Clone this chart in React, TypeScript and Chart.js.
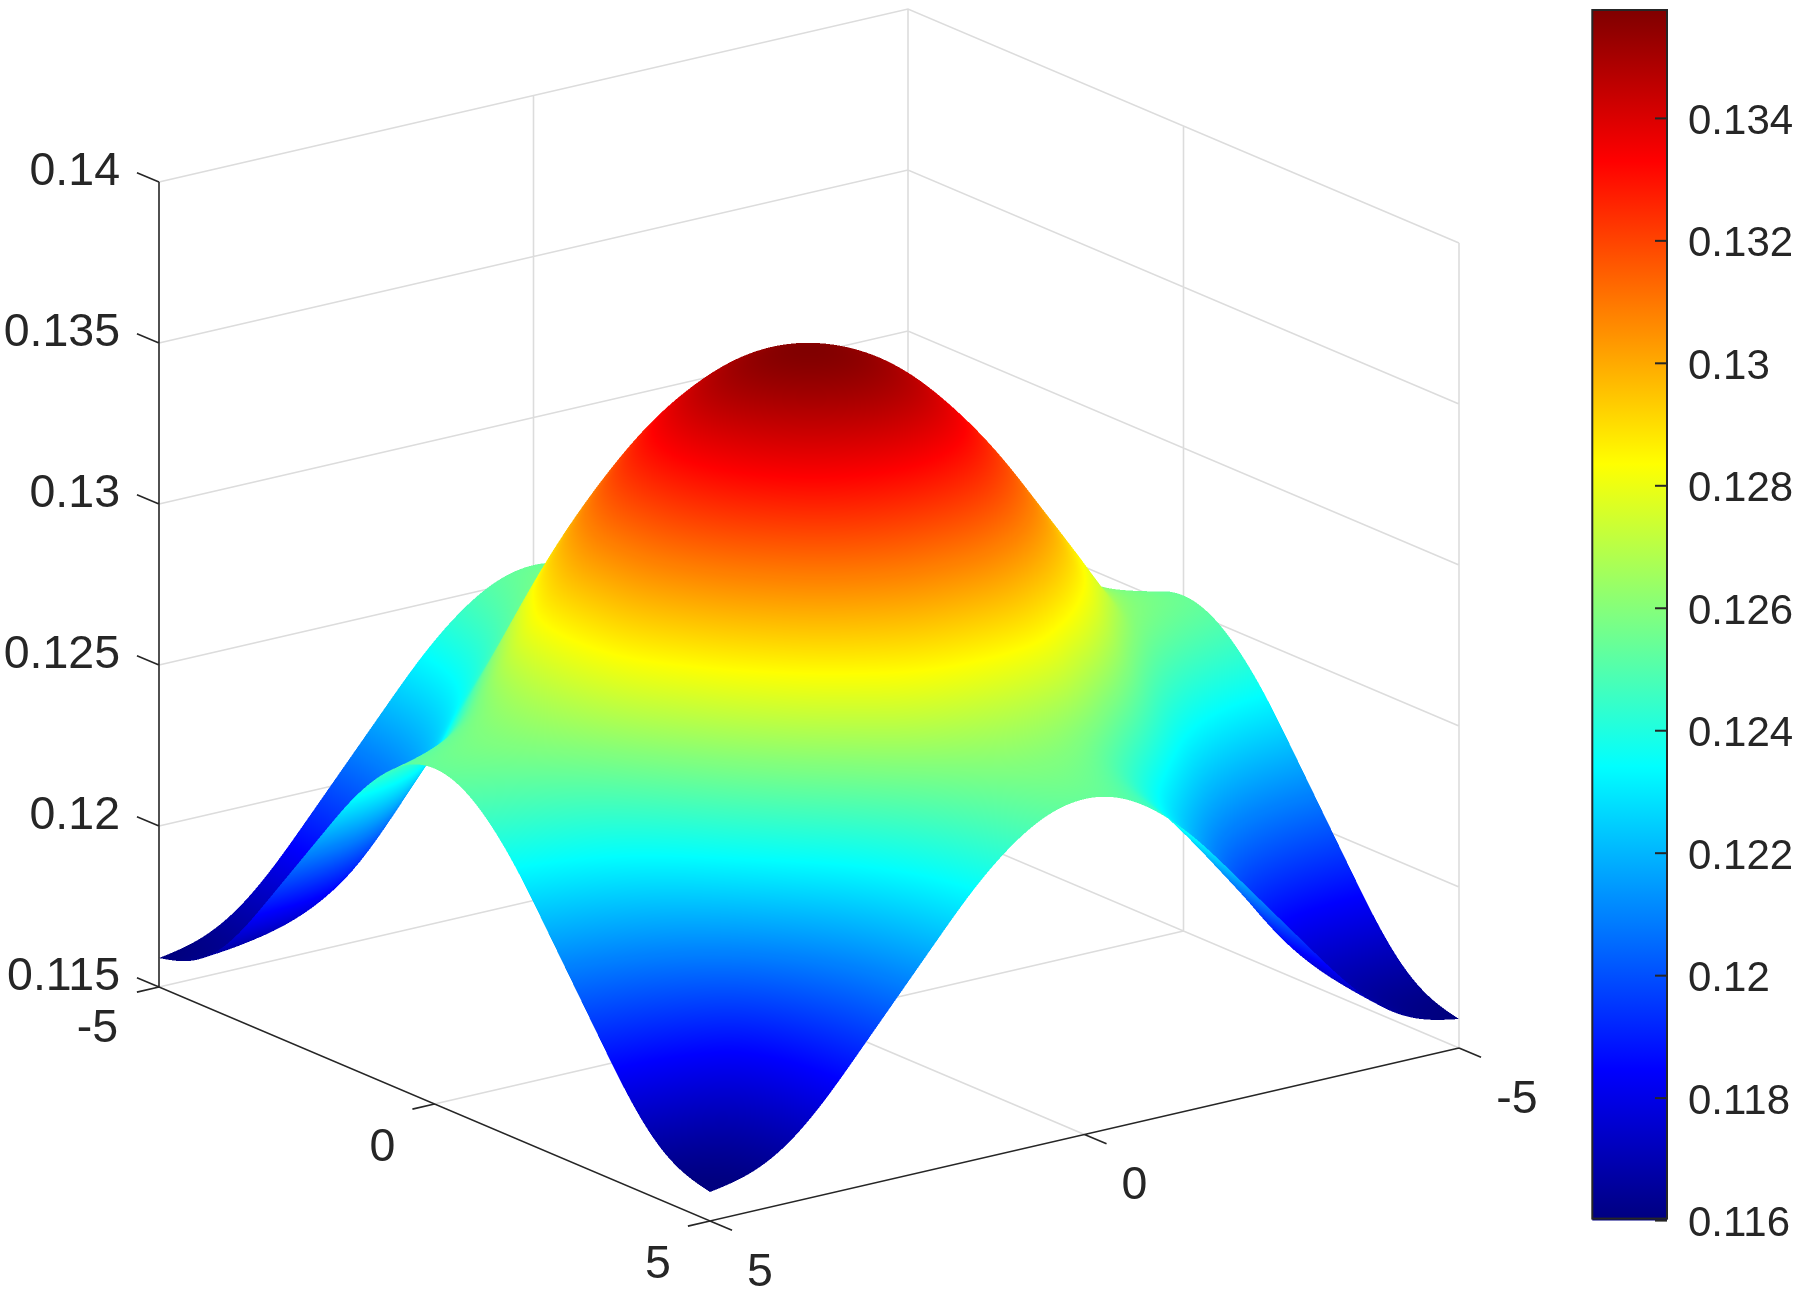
import React, { useEffect, useRef } from "react";
import { Chart, registerables } from "chart.js";

Chart.register(...registerables);

// Surface heights. Rows are |v| = 0, 0.5 ... 5; columns are |u| = 0, 0.5 ... 5.
const zRow00 = [0.1359, 0.13565, 0.13505, 0.13405, 0.1325, 0.1307, 0.1288, 0.127, 0.1261, 0.1258, 0.1255];
const zRow05 = [0.13565, 0.1354, 0.1348, 0.1337, 0.13235, 0.1306, 0.1287, 0.1268, 0.126, 0.1255, 0.12525];
const zRow10 = [0.13505, 0.1348, 0.1341, 0.1331, 0.13165, 0.1298, 0.1282, 0.1262, 0.1253, 0.1248, 0.1245];
const zRow15 = [0.13405, 0.1337, 0.1331, 0.1319, 0.1305, 0.1288, 0.1267, 0.12505, 0.1241, 0.1236, 0.1234];
const zRow20 = [0.1325, 0.13235, 0.13165, 0.1305, 0.129, 0.1272, 0.1251, 0.12365, 0.1227, 0.1222, 0.122];
const zRow25 = [0.1307, 0.1306, 0.1298, 0.1288, 0.1272, 0.1252, 0.1236, 0.12205, 0.12115, 0.12075, 0.1206];
const zRow30 = [0.1288, 0.1287, 0.1282, 0.1267, 0.1251, 0.1236, 0.1219, 0.1204, 0.11965, 0.1193, 0.1192];
const zRow35 = [0.127, 0.1268, 0.1262, 0.12505, 0.12365, 0.12205, 0.1204, 0.1186, 0.118, 0.11785, 0.1178];
const zRow40 = [0.1261, 0.126, 0.1253, 0.1241, 0.1227, 0.12115, 0.11965, 0.118, 0.117, 0.1168, 0.1167];
const zRow45 = [0.1258, 0.1255, 0.1248, 0.1236, 0.1222, 0.12075, 0.1193, 0.11785, 0.1168, 0.1162, 0.1161];
const zRow50 = [0.1255, 0.12525, 0.1245, 0.1234, 0.122, 0.1206, 0.1192, 0.1178, 0.1167, 0.1161, 0.1159];
const zQuarter = [zRow00, zRow05, zRow10, zRow15, zRow20, zRow25, zRow30, zRow35, zRow40, zRow45, zRow50];

const planeTicks = [-5, 0, 5];
const zTicks = [0.115, 0.12, 0.125, 0.13, 0.135, 0.14];
const zTickLabels = ["0.115", "0.12", "0.125", "0.13", "0.135", "0.14"];
const barTicks = [0.116, 0.118, 0.12, 0.122, 0.124, 0.126, 0.128, 0.13, 0.132, 0.134];
const barMin = 0.116;
const barMax = 0.13577;

// Orthographic view of the box
const VIEW = { cx: 809, cy: 1017.5, ux: 55.1, uy: 23.4, vx: -74.9, vy: 17.3, zk: 32200, z0: 0.115 };
const project = (u: number, v: number, z: number) => ({
  x: VIEW.cx + u * VIEW.ux + v * VIEW.vx,
  y: VIEW.cy + u * VIEW.uy + v * VIEW.vy - (z - VIEW.z0) * VIEW.zk,
});

const DARK = "#262626";
const GRID = "#dcdcdc";
const FONT = "46.5px 'Liberation Sans', Arial, sans-serif";

const clamp01 = (a: number) => Math.max(0, Math.min(1, a));
const jetRGB = (t: number) => [
  Math.round(clamp01(1.5 - Math.abs(4 * t - 3)) * 255),
  Math.round(clamp01(1.5 - Math.abs(4 * t - 2)) * 255),
  Math.round(clamp01(1.5 - Math.abs(4 * t - 1)) * 255),
];
const jet = (t: number) => `rgb(${jetRGB(t).join(",")})`;

// full grid, u and v from -5 to 5 in steps of 0.5, mirrored from the quarter table
const N = 21;
const zIn = (i: number, j: number) => zQuarter[Math.abs(j - 10)][Math.abs(i - 10)];
const zAt = (i: number, j: number): number => {
  if (i < 0) return 2 * zAt(0, j) - zAt(1, j);
  if (i > N - 1) return 2 * zAt(N - 1, j) - zAt(N - 2, j);
  if (j < 0) return 2 * zAt(i, 0) - zAt(i, 1);
  if (j > N - 1) return 2 * zAt(i, N - 1) - zAt(i, N - 2);
  return zIn(i, j);
};
// cubic spline used only to paint between the table's nodes
const bs = (p0: number, p1: number, p2: number, p3: number, t: number) => {
  const s = 1 - t;
  return (s * s * s * p0 + (3 * t * t * t - 6 * t * t + 4) * p1 + (-3 * t * t * t + 3 * t * t + 3 * t + 1) * p2 + t * t * t * p3) / 6;
};
const smoothZ = (fi: number, fj: number) => {
  const i = Math.min(N - 2, Math.floor(fi));
  const j = Math.min(N - 2, Math.floor(fj));
  const ti = fi - i;
  const tj = fj - j;
  const col = [-1, 0, 1, 2].map((d) => bs(zAt(i + d, j - 1), zAt(i + d, j), zAt(i + d, j + 1), zAt(i + d, j + 2), tj));
  return bs(col[0], col[1], col[2], col[3], ti);
};

const surfacePoints: { x: number; y: number }[] = [];
for (let i = 0; i < N; i++)
  for (let j = 0; j < N; j++) surfacePoints.push(project(-5 + i / 2, -5 + j / 2, zAt(i, j)));

const gap = { x: NaN, y: NaN };
const zLo = zTicks[0];
const zHi = zTicks[zTicks.length - 1];
const gridSegments: { x: number; y: number }[] = [];
zTicks.forEach((z) => {
  gridSegments.push(project(-5, 5, z), project(-5, -5, z), project(5, -5, z), gap);
});
[
  [-5, planeTicks[1]],
  [-5, -5],
  [planeTicks[1], -5],
  [5, -5],
].forEach(([u, v]) => gridSegments.push(project(u, v, zLo), project(u, v, zHi), gap));
gridSegments.push(project(-5, 0, zLo), project(5, 0, zLo), gap);
gridSegments.push(project(0, -5, zLo), project(0, 5, zLo), gap);

const axisSegments: { x: number; y: number }[] = [];
axisSegments.push(project(-5, 5, zHi), project(-5, 5, zLo), project(5, 5, zLo), project(5, -5, zLo), gap);
const tickLen = 0.4;
zTicks.forEach((z) => {
  axisSegments.push(project(-5, 5, z), project(-5 - tickLen, 5, z), gap);
});
planeTicks.forEach((t) => {
  axisSegments.push(project(t, 5, zLo), project(t, 5 + 0.295, zLo), gap);
  axisSegments.push(project(5, t, zLo), project(5 + tickLen, t, zLo), gap);
});

const surfacePlugin = {
  id: "surfacePlugin",
  afterDatasetDraw(chart: any, args: any) {
    if (chart.data.datasets[args.index].label !== "surface") return;
    const { ctx, scales } = chart;
    const SUB = 8;
    const SS = 2; // supersampled raster, painted back to front
    const W = chart.width * SS;
    const H = chart.height * SS;
    const M = (N - 1) * SUB + 1;
    const px = new Float64Array(M * M);
    const py = new Float64Array(M * M);
    const pt = new Float64Array(M * M);
    for (let a = 0; a < M; a++)
      for (let b = 0; b < M; b++) {
        const fi = a / SUB;
        const fj = b / SUB;
        const z = smoothZ(fi, fj);
        const p = project(-5 + fi / 2, -5 + fj / 2, z);
        const k = a * M + b;
        px[k] = scales.x.getPixelForValue(p.x) * SS;
        py[k] = scales.y.getPixelForValue(p.y) * SS;
        pt[k] = clamp01((z - barMin) / (barMax - barMin));
      }
    const lut = new Uint8Array(1025 * 3);
    for (let i = 0; i <= 1024; i++) {
      const c = jetRGB(i / 1024);
      lut[i * 3] = c[0];
      lut[i * 3 + 1] = c[1];
      lut[i * 3 + 2] = c[2];
    }
    const img = new ImageData(W, H);
    const data = img.data;
    const tri = (k0: number, k1: number, k2: number) => {
      const x0 = px[k0], y0 = py[k0], x1 = px[k1], y1 = py[k1], x2 = px[k2], y2 = py[k2];
      const det = (y1 - y2) * (x0 - x2) + (x2 - x1) * (y0 - y2);
      if (Math.abs(det) < 1e-9) return;
      const minX = Math.max(0, Math.floor(Math.min(x0, x1, x2)));
      const maxX = Math.min(W - 1, Math.ceil(Math.max(x0, x1, x2)));
      const minY = Math.max(0, Math.floor(Math.min(y0, y1, y2)));
      const maxY = Math.min(H - 1, Math.ceil(Math.max(y0, y1, y2)));
      const eps = -1e-3;
      for (let y = minY; y <= maxY; y++)
        for (let x = minX; x <= maxX; x++) {
          const qx = x + 0.5 - x2;
          const qy = y + 0.5 - y2;
          const l0 = ((y1 - y2) * qx + (x2 - x1) * qy) / det;
          const l1 = ((y2 - y0) * qx + (x0 - x2) * qy) / det;
          const l2 = 1 - l0 - l1;
          if (l0 < eps || l1 < eps || l2 < eps) continue;
          const t = l0 * pt[k0] + l1 * pt[k1] + l2 * pt[k2];
          const c = Math.round(clamp01(t) * 1024) * 3;
          const o = (y * W + x) * 4;
          data[o] = lut[c];
          data[o + 1] = lut[c + 1];
          data[o + 2] = lut[c + 2];
          data[o + 3] = 255;
        }
    };
    for (let a = 0; a < M - 1; a++)
      for (let b = 0; b < M - 1; b++) {
        const k0 = a * M + b;
        tri(k0, k0 + 1, k0 + M + 1);
        tri(k0, k0 + M + 1, k0 + M);
      }
    const off = document.createElement("canvas");
    off.width = W;
    off.height = H;
    (off.getContext("2d") as CanvasRenderingContext2D).putImageData(img, 0, 0);
    ctx.save();
    ctx.imageSmoothingEnabled = true;
    ctx.imageSmoothingQuality = "high";
    ctx.drawImage(off, 0, 0, chart.width, chart.height);
    ctx.restore();
  },
  afterDraw(chart: any) {
    const { ctx, scales } = chart;
    ctx.save();
    ctx.font = FONT;
    ctx.fillStyle = DARK;
    ctx.textBaseline = "middle";
    const put = (p: { x: number; y: number }, dx: number, dy: number, text: string, align: CanvasTextAlign) => {
      ctx.textAlign = align;
      ctx.fillText(text, scales.x.getPixelForValue(p.x) + dx, scales.y.getPixelForValue(p.y) + dy);
    };
    zTicks.forEach((z, i) => put(project(-5, 5, z), -39, -10, zTickLabels[i], "right"));
    planeTicks.forEach((t) => {
      put(project(t, 5, zLo), t === -5 ? -41 : -52, t === -5 ? 42 : 44, String(t), t === -5 ? "right" : "center");
      put(project(5, t, zLo), t === -5 ? 58 : 50, 52, String(t), "center");
    });
    ctx.restore();
  },
};

const barFramePlugin = {
  id: "barFramePlugin",
  afterDatasetsDraw(chart: any) {
    const { ctx, chartArea, scales } = chart;
    ctx.save();
    ctx.strokeStyle = DARK;
    ctx.lineWidth = 2;
    barTicks.forEach((t) => {
      const y = scales.y.getPixelForValue(t);
      ctx.beginPath();
      ctx.moveTo(chartArea.right - 12, y);
      ctx.lineTo(chartArea.right, y);
      ctx.stroke();
    });
    ctx.strokeRect(chartArea.left, chartArea.top, chartArea.right - chartArea.left, chartArea.bottom - chartArea.top - 2);
    ctx.restore();
  },
};

export default function App() {
  const mainRef = useRef<HTMLCanvasElement>(null);
  const barRef = useRef<HTMLCanvasElement>(null);

  useEffect(() => {
    const main = new Chart(mainRef.current as HTMLCanvasElement, {
      type: "scatter",
      data: {
        datasets: [
          { label: "axes", data: axisSegments, showLine: true, borderColor: DARK, borderWidth: 1.6, pointRadius: 0, order: 0, spanGaps: false },
          { label: "surface", data: surfacePoints, pointRadius: 0, showLine: false, order: 1 },
          { label: "grid", data: gridSegments, showLine: true, borderColor: GRID, borderWidth: 1.6, pointRadius: 0, order: 2, spanGaps: false },
        ],
      },
      options: {
        animation: false,
        responsive: false,
        events: [],
        layout: { padding: 0 },
        plugins: { legend: { display: false }, tooltip: { enabled: false } },
        scales: {
          x: { type: "linear", min: 0, max: 1799, display: false },
          y: { type: "linear", min: 0, max: 1292, reverse: true, display: false },
        },
      },
      plugins: [surfacePlugin],
    } as any);

    const bar = new Chart(barRef.current as HTMLCanvasElement, {
      type: "bar",
      data: {
        labels: ["z"],
        datasets: [
          {
            data: [[barMin, barMax]],
            barPercentage: 1,
            categoryPercentage: 1,
            backgroundColor: (c: any) => {
              const area = c.chart.chartArea;
              if (!area) return "#00f";
              const g = c.chart.ctx.createLinearGradient(0, area.bottom, 0, area.top);
              for (let i = 0; i <= 64; i++) g.addColorStop(i / 64, jet(i / 64));
              return g;
            },
          },
        ],
      },
      options: {
        animation: false,
        responsive: false,
        events: [],
        layout: { padding: { top: 10, bottom: 71.4, left: 32.3, right: 0 } },
        plugins: { legend: { display: false }, tooltip: { enabled: false } },
        scales: {
          x: { display: false },
          y: {
            position: "right",
            min: barMin,
            max: barMax,
            grid: { display: false, drawTicks: false },
            border: { display: false },
            afterFit: (s: any) => {
              s.width = 132;
              s.paddingTop = 0;
              s.paddingBottom = 0;
            },
            afterBuildTicks: (s: any) => {
              s.ticks = barTicks.map((value) => ({ value }));
            },
            ticks: {
              autoSkip: false,
              padding: 21,
              labelOffset: 4,
              color: DARK,
              font: { family: "'Liberation Sans', Arial, sans-serif", size: 42 },
              callback: (v: any) => String(Number(v)),
            },
          },
        },
      },
      plugins: [barFramePlugin],
    } as any);

    return () => {
      main.destroy();
      bar.destroy();
    };
  }, []);

  return (
    <div style={{ position: "absolute", left: 0, top: 0, width: 1799, height: 1292, overflow: "hidden", background: "#fff" }}>
      <canvas ref={mainRef} width={1799} height={1292} style={{ position: "absolute", left: 0, top: 0 }} />
      <canvas ref={barRef} width={239} height={1292} style={{ position: "absolute", left: 1560, top: 0 }} />
    </div>
  );
}
